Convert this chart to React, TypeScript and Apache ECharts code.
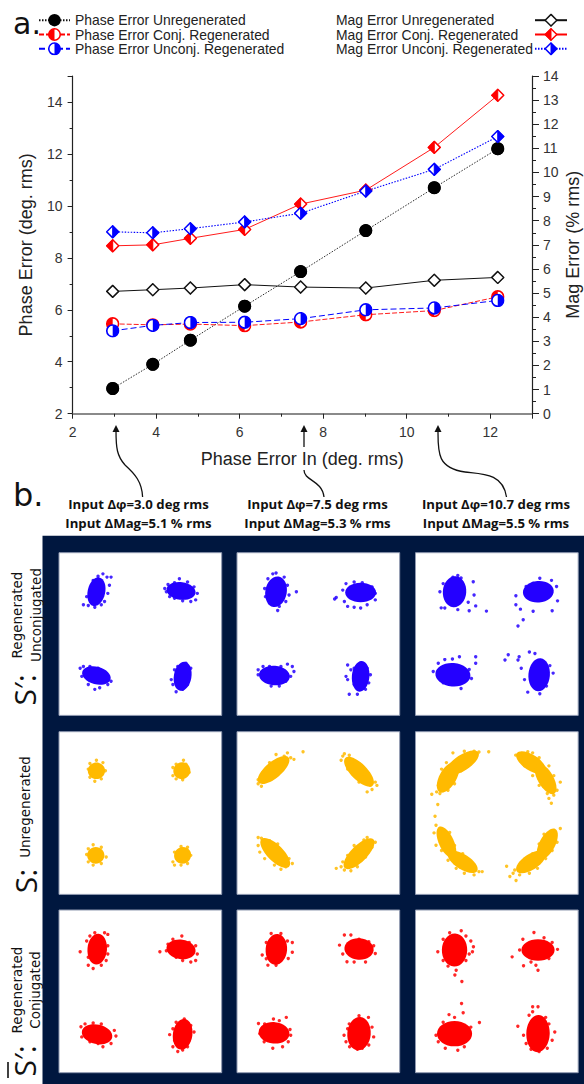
import React, { useEffect, useRef } from "react";
import * as echarts from "echarts";

const xIn = [2.96, 3.92, 4.82, 6.12, 7.46, 9.02, 10.66, 12.18];
const phaseUnreg = [2.97, 3.9, 4.83, 6.14, 7.47, 9.05, 10.7, 12.2];
const phaseConj = [5.46, 5.42, 5.45, 5.39, 5.53, 5.81, 5.97, 6.5];
const phaseUnconj = [5.19, 5.4, 5.51, 5.52, 5.66, 6.0, 6.07, 6.36];
const magUnreg = [5.07, 5.14, 5.21, 5.35, 5.25, 5.21, 5.53, 5.65];
const magConj = [6.96, 7.0, 7.27, 7.64, 8.69, 9.27, 11.04, 13.2];
const magUnconj = [7.54, 7.5, 7.67, 7.95, 8.31, 9.23, 10.13, 11.49];

const inputLabels = [
  ["Input Δφ=3.0 deg rms", "Input ΔMag=5.1 % rms"],
  ["Input Δφ=7.5 deg rms", "Input ΔMag=5.3 % rms"],
  ["Input Δφ=10.7 deg rms", "Input ΔMag=5.5 % rms"],
];

// Constellation clusters, in panel units (0-100, y downward): dense core [x, y, a, b, degrees]
const coreUnconj1 = [[23, 24, 9, 5.4, 78], [75, 23.5, 9, 5.4, -8], [23, 75.5, 9, 5.4, -15], [76, 76, 9, 5.4, 80]];
const coreUnconj2 = [[24, 24, 9.5, 6.6, 80], [76, 24.5, 9.5, 6, 0], [23, 75.5, 9.5, 6, -5], [76, 76, 9.5, 5.4, 85]];
const coreUnconj3 = [[24, 24, 9.5, 7.2, 85], [75.5, 24, 9.5, 6.6, 5], [23, 75, 10.8, 7.2, -5], [76, 75, 10.2, 6.6, 85]];
const coreUnreg1 = [[23, 24, 5.3, 5.1, 0], [75.5, 24, 5.3, 5.1, 30], [22.6, 76, 5.3, 5.1, 0], [76, 76, 5.3, 5.1, 30]];
const coreUnreg2 = [[22.5, 23.5, 12, 5, 40], [75, 24.6, 12, 5, -45], [23.5, 74.5, 12, 5, -45], [75, 75, 12.5, 5, 45]];
const coreUnreg3 = [[20, 28, 10.5, 5.2, 60], [29, 19, 11.5, 4.8, 33], [71, 19, 10.5, 4.8, -33], [80, 29, 10.5, 4.8, -60], [19, 68, 10.5, 4.6, -65], [29, 80, 10.5, 4.6, -32], [71, 80, 10.5, 4.8, 33], [81, 69, 10.5, 4.8, 62]];
const coreConj1 = [[23.5, 24, 9.5, 6, 85], [75, 24.2, 9, 6, -8], [23.4, 76.4, 9.5, 6, -12], [76, 76.4, 9.5, 6, 82]];
const coreConj2 = [[24.2, 24.2, 9.5, 6.6, 85], [75, 24, 9, 6.6, -5], [22.8, 75.5, 9.5, 6.6, -5], [75, 76, 10.2, 7.2, 85]];
const coreConj3 = [[24, 24.6, 10.2, 7.8, 88], [75.3, 24.6, 10.2, 6.6, 0], [24, 76, 10.8, 7.8, 0], [75.3, 76, 11.4, 7.2, 88]];

// Loose points read around each cluster, in the same panel units
const pointsUnconj1 = [[29.5,15],[27,13],[24,14.5],[32,15],[31,20],[30,25],[19,23],[17,27],[15,32],[18,32.5],[22,33.5],[26,32],[28,30],[21,17],[66,24],[65,22],[67,19.5],[71,18.5],[74,16],[79,18],[83,21],[85,25],[84,29],[81,30],[76,29.5],[71,28],[68,27],[13,71],[15,70],[19,70],[24,71],[29,75],[32,79],[30,81],[25,83],[22,84],[18,81],[14,76],[71,72],[73,70],[78,68],[81,71],[80,76],[79,81],[76,84],[72,85.5],[70,81],[69,78],[72,76]];
const pointsUnconj2 = [[22,13],[24,12.5],[29,15],[31,20],[32,26],[30,30],[26,33],[25,35.5],[20,31],[17.5,27],[17,22],[19,16],[36.5,24],[61,27.5],[60,28.5],[65,23],[67,19],[72,18],[77,18.5],[83,21],[85,25],[85,29],[80,32],[76,34],[72,33.5],[68,33],[66,30],[13,75],[13,72],[16,70],[20,70],[27,70],[31,68.5],[34,70],[35,73],[33,76],[30,79],[26,82],[21,82],[18,79],[68,69],[70,72],[72,71],[76,68],[80,71],[82,75],[81,80],[79,84],[74,87],[69,87],[72,81],[67,76],[68,78]];
const pointsUnconj3 = [[26,14],[23,15],[28,15.5],[35.5,17.8],[36,26],[32.4,30.4],[37,32.7],[33,35.7],[26,35],[18,34],[15.8,33.9],[15,24],[17,19],[43.6,35.9],[76.4,15.7],[83.6,17],[86.7,20.8],[87.3,29.6],[84,35.7],[72.3,36],[64.5,34.7],[61.7,32],[61.7,26.5],[66.2,41.2],[63,45],[68,20.8],[72.3,18.8],[37,64],[37,68],[27,64],[22.7,65.3],[18,65.7],[14,68],[10.9,73],[17,80],[28,83.5],[34.4,77.3],[33,71.8],[57,62.7],[55,66],[63.7,64],[63,66],[70,61],[73.4,62],[65,71],[67,78],[69,85.7],[76.4,86.7],[80.5,82],[84.6,74],[82.6,69.4]];
const pointsUnreg1 = [[18,23],[19,19.5],[23,17.5],[27,19],[28.5,24],[26,29],[22,30.5],[19,28],[70,22],[72,20],[76.5,17.5],[78,20],[80,25],[76,29.5],[72,29],[70,27],[17,75.5],[18,72],[21,69.5],[26,71],[29,77],[26,81],[21,82],[18,80],[70,80],[71,74],[75,70.5],[79,71],[81,76],[79,81],[75,82],[71,82]];
const pointsUnreg2 = [[13,32],[13,29.5],[15,33.5],[17,30],[24,14],[29,15],[31,13],[33,16],[35,17],[40.6,12.3],[27,20],[16,25],[20,19],[30,18.5],[65,15],[66,13.5],[69,14.5],[70,17],[64,17.5],[71,20],[78,26],[85,31],[86,33],[83,35.5],[80,37],[82,33],[75,31],[68,23],[13,65],[15,65.5],[13,70],[14,74],[17,78],[23,82],[27,84.5],[30,83],[34,81],[32,78],[25,69],[20,67],[61,84],[65,80],[64,83],[66,85],[70,85.5],[74,83],[79,77],[83,71],[85,68],[80,65],[78,66.5],[72,70],[68,76]];
const pointsUnreg3 = [[13,37],[15,38],[10,38.5],[14,33],[16,23],[19,19],[23,13],[30,12],[36,12],[37,14],[39,12.5],[45,12.3],[34,18],[28,24],[24,32],[20,36],[13.7,44.8],[12,52],[61.6,14.4],[65,15.5],[69,12.3],[72,13],[76,16],[82,21],[85,27],[89,31],[87,36],[85,39],[81,38],[76,33],[72,27],[67,21],[83.5,44],[82,41],[12.6,57.5],[11.4,62.2],[15,59.5],[17,61],[12.6,69.8],[16,73],[20,79],[25,84],[30,87],[36,88],[39,86],[41,86],[35,82],[29,75],[24,70],[21,62],[89,59.5],[84,62],[86,64],[87,68],[84,73],[80,78],[75,84],[70,87],[64,88],[60,87],[56,82.7],[58,89],[61.8,91.4],[61,85],[66,80],[72,75],[76,69],[79,63]];
const pointsConj1 = [[13,25.7],[18,34],[21,36],[18,29],[17,19],[19,16],[22,14],[28,14],[30,15],[30,22],[30,27],[29,31],[26,34],[62,25.7],[66,25],[67,21],[70,18],[75.5,16],[80,20],[84,22],[85,27],[84,31],[81,32],[76,31],[72,29],[13.5,71.8],[14,78],[16,70],[21,69.5],[26,70],[29,74],[34,74],[35,77.5],[32,82],[27,84],[24,82],[19,81],[68,76.6],[70,73],[72,69],[77,67],[81,71],[83,75],[80,80],[79,84],[76,86],[73,87],[70,84],[71,80]];
const pointsConj2 = [[21,14.4],[27,14.4],[31,19],[34,20],[34,26],[31.5,29.8],[27,31],[24,34],[19,33.9],[18,30],[15.5,27.7],[18,20],[66,15.4],[70,15.4],[63,21.6],[65,27],[67.6,31.8],[72,32],[79,32],[85,26.7],[84,22],[81,19.5],[75,18],[13.2,69.8],[14,76],[16.7,81],[22,85],[28,84],[31.5,81],[33,77],[32.6,73.5],[30.3,66],[22.4,67],[26,68],[17,70],[75,65],[80.8,66],[83,72],[84,78],[81,83],[77,85],[74,85.6],[69.2,84],[67,81],[65.8,77],[69,70],[68,73]];
const pointsConj3 = [[28.1,12.7],[21,14],[17,18],[13.7,25.7],[17,31],[20,34.5],[24.2,40],[25,37],[28.5,44],[31,31],[33,27],[35.6,22.6],[35,25.7],[31,16],[34,19],[72.8,13.8],[66,18],[59.4,28.8],[64,24.6],[66.4,34.3],[71,32],[75.3,37],[74,34],[82,29.8],[87.3,24.2],[84,20],[79,17],[28.3,57.5],[29.3,63.2],[20.6,64.3],[24,66],[39.3,69.2],[17,69],[12.6,77],[14,81],[18.3,85],[26,86.2],[30,84],[33,77],[34,72],[72,59.5],[75.3,59.5],[69.8,64.7],[72,62.5],[62.9,71.5],[66.4,77],[68,82],[71,85.6],[76,87],[81,85],[84,80],[85.6,75],[82,70],[80,66]];

const BLUE = "#2400ff";
const AMBER = "#ffba00";
const RED = "#ff0000";
const SANS = "'Liberation Sans', Arial, sans-serif";

const panelRows = [
  { top: 552.7, color: BLUE, cores: [coreUnconj1, coreUnconj2, coreUnconj3], points: [pointsUnconj1, pointsUnconj2, pointsUnconj3] },
  { top: 731.7, color: AMBER, cores: [coreUnreg1, coreUnreg2, coreUnreg3], points: [pointsUnreg1, pointsUnreg2, pointsUnreg3] },
  { top: 910, color: RED, cores: [coreConj1, coreConj2, coreConj3], points: [pointsConj1, pointsConj2, pointsConj3] },
];
const panelLefts = [59, 237, 415.5];
const PANEL = 162.7;

const uri = (inner: string) =>
  "image://data:image/svg+xml;charset=utf-8," +
  encodeURIComponent(`<svg xmlns="http://www.w3.org/2000/svg" width="14" height="14" viewBox="0 0 14 14">${inner}</svg>`);
const halfCircle = (c: string, left: boolean) =>
  uri(`<circle cx="7" cy="7" r="5.9" fill="#fff" stroke="${c}" stroke-width="1.6"/><path d="M7 1.1 A5.9 5.9 0 0 ${left ? 0 : 1} 7 12.9 Z" fill="${c}"/>`);
const halfDiamond = (c: string, left: boolean) =>
  uri(`<path d="M7 1 L13 7 L7 13 L1 7 Z" fill="#fff" stroke="${c}" stroke-width="1.5"/><path d="M7 1 L${left ? 1 : 13} 7 L7 13 Z" fill="${c}" stroke="${c}" stroke-width="1"/>`);
const blackCircle = uri(`<circle cx="7" cy="7" r="6.4" fill="#000"/>`);
const blackDiamond = uri(`<path d="M7 1 L13 7 L7 13 L1 7 Z" fill="#fff" stroke="#111" stroke-width="1.5"/>`);

const zip = (ys: number[]) => xIn.map((x, i) => [x, ys[i]]);

const lineSeries = (name: string, ys: number[], yAxisIndex: number, symbol: string, color: string, width: number, type: any) => ({
  type: "line", name, data: zip(ys), xAxisIndex: 0, yAxisIndex, symbol, symbolSize: 14,
  showSymbol: true, itemStyle: { color, opacity: 1 }, lineStyle: { color, width, type }, smooth: false,
});

const renderCore = (params: any, api: any) => {
  const c = api.coord([api.value(0), api.value(1)]);
  const s = api.size([1, 1]);
  const unit = (s[0] + s[1]) / 2;
  return {
    type: "ellipse", x: c[0], y: c[1], rotation: (api.value(4) * Math.PI) / 180,
    shape: { cx: 0, cy: 0, rx: api.value(2) * unit, ry: api.value(3) * unit },
    style: { fill: api.visual("color") },
  };
};

const rotated = (text: string, x: number, y: number, size: number, font = "'DejaVu Sans'") => ({
  type: "text", x, y, rotation: Math.PI / 2, z: 5,
  style: { text, font: `${size}px ${font}`, fill: "#111", textAlign: "center", textVerticalAlign: "middle" },
});
const curve = (x1: number, y1: number, cpx1: number, cpy1: number, cpx2: number, cpy2: number, x2: number, y2: number) => ({
  type: "bezierCurve", z: 5,
  shape: { x1, y1, cpx1, cpy1, cpx2, cpy2, x2, y2 },
  style: { stroke: "#111", lineWidth: 1.3, fill: "none" },
});
const head = (x: number) => ({
  type: "polygon", z: 5, shape: { points: [[x, 425], [x - 3.5, 432], [x + 3.5, 432]] }, style: { fill: "#111" },
});

export default function App() {
  const ref = useRef<HTMLDivElement>(null);
  useEffect(() => {
    document.body.style.margin = "0";
    const chart = echarts.init(ref.current!, undefined, { renderer: "svg" });

    const grids: any[] = [{ left: 72.6, top: 76, width: 459.4, height: 337.7, outerBoundsMode: "none" }];
    const xAxes: any[] = [{
      type: "value", gridIndex: 0, min: 2, max: 13, interval: 2,
      name: "Phase Error In (deg. rms)", nameLocation: "middle", nameGap: 36,
      nameTextStyle: { fontFamily: SANS, fontSize: 18, color: "#222" },
      splitLine: { show: false },
      axisLine: { lineStyle: { color: "#8a8a8a", width: 2 }, onZero: false },
      axisTick: { length: 5, lineStyle: { color: "#222" } },
      minorTick: { show: true, splitNumber: 2, length: 3, lineStyle: { color: "#222" } },
      axisLabel: { fontFamily: SANS, fontSize: 14, color: "#333", margin: 11, showMaxLabel: false },
    }];
    const yAxes: any[] = [
      {
        type: "value", gridIndex: 0, position: "left", min: 2, max: 15, interval: 2,
        name: "Phase Error (deg. rms)", nameLocation: "middle", nameGap: 38,
        nameTextStyle: { fontFamily: SANS, fontSize: 18, color: "#222" },
        splitLine: { show: false },
        axisLine: { show: true, lineStyle: { color: "#222", width: 1.2 } },
        axisTick: { show: true, length: 5, lineStyle: { color: "#222" } },
        minorTick: { show: true, splitNumber: 2, length: 3, lineStyle: { color: "#222" } },
        axisLabel: { fontFamily: SANS, fontSize: 14, color: "#333", margin: 10, showMaxLabel: false },
      },
      {
        type: "value", gridIndex: 0, position: "right", min: 0, max: 14, interval: 1,
        name: "Mag Error (% rms)", nameLocation: "middle", nameGap: 32, nameMoveOverlap: false,
        nameTextStyle: { fontFamily: SANS, fontSize: 18, color: "#222" },
        splitLine: { show: false },
        axisLine: { show: true, lineStyle: { color: "#222", width: 1.2 } },
        axisTick: { show: true, length: 7, lineStyle: { color: "#222" } },
        minorTick: { show: true, splitNumber: 2, length: 4, lineStyle: { color: "#222" } },
        axisLabel: { fontFamily: SANS, fontSize: 14, color: "#333", margin: 11 },
      },
    ];

    const series: any[] = [
      lineSeries("Phase Error Unregenerated", phaseUnreg, 0, blackCircle, "#111", 0.9, [1.5, 1.5]),
      {
        type: "scatter", name: "Phase Error Unregenerated gap", xAxisIndex: 0, yAxisIndex: 0, data: zip(phaseUnreg),
        symbol: "circle", symbolSize: 20, itemStyle: { color: "#fff", opacity: 1 }, silent: true,
      },
      {
        type: "scatter", name: "Phase Error Unregenerated points", xAxisIndex: 0, yAxisIndex: 0, data: zip(phaseUnreg),
        symbol: "circle", symbolSize: 13, itemStyle: { color: "#000", opacity: 1 }, silent: true,
      },
      lineSeries("Phase Error Conj. Regenerated", phaseConj, 0, halfCircle(RED, true), RED, 0.9, [5, 2]),
      lineSeries("Phase Error Unconj. Regenerated", phaseUnconj, 0, halfCircle("#0000ff", false), "#0000ff", 1, [6, 3]),
      lineSeries("Mag Error Unregenerated", magUnreg, 1, blackDiamond, "#111", 1, "solid"),
      lineSeries("Mag Error Conj. Regenerated", magConj, 1, halfDiamond(RED, true), RED, 0.9, "solid"),
      lineSeries("Mag Error Unconj. Regenerated", magUnconj, 1, halfDiamond("#0000ff", false), "#0000ff", 1.1, [1.5, 1.5]),
    ];

    panelRows.forEach((row) => {
      panelLefts.forEach((left, col) => {
        const gi = grids.length;
        grids.push({
          left, top: row.top, width: PANEL, height: PANEL, show: true, outerBoundsMode: "none",
          backgroundColor: "#fff", borderColor: "#8f99b0", borderWidth: 1,
        });
        xAxes.push({ type: "value", gridIndex: gi, min: 0, max: 100, show: false });
        yAxes.push({ type: "value", gridIndex: gi, min: 0, max: 100, inverse: true, show: false });
        const axisIdx = { xAxisIndex: gi, yAxisIndex: gi + 1 };
        series.push({
          type: "custom", ...axisIdx, data: row.cores[col], renderItem: renderCore,
          encode: { x: 0, y: 1 }, itemStyle: { color: row.color }, silent: true,
        });
        series.push({
          type: "scatter", ...axisIdx, data: row.points[col], symbol: "circle", symbolSize: 3.4,
          itemStyle: { color: row.color, opacity: 0.85 }, silent: true,
        });
      });
    });

    const legendBase = {
      orient: "vertical", top: 13.2, padding: 0, itemHeight: 17, itemGap: 0.3,
      textStyle: { fontFamily: SANS, fontSize: 13.9, color: "#222" }, inactiveColor: "#222", selectedMode: false,
    };

    chart.setOption({
      animation: false,
      backgroundColor: "#fff",
      grid: grids,
      xAxis: xAxes,
      yAxis: yAxes,
      series,
      legend: [
        {
          ...legendBase, left: 38, itemWidth: 31,
          data: ["Phase Error Unregenerated", "Phase Error Conj. Regenerated", "Phase Error Unconj. Regenerated"],
        },
        {
          ...legendBase, right: 16, itemWidth: 32, align: "right",
          data: ["Mag Error Unregenerated", "Mag Error Conj. Regenerated", "Mag Error Unconj. Regenerated"],
          formatter: (name: string) => `{a|${name}}`,
          textStyle: { ...legendBase.textStyle, rich: { a: { width: 194, align: "left", fontFamily: SANS, fontSize: 13.9, color: "#222" } } },
        },
      ],
      graphic: {
        elements: [
          { type: "rect", z: -10, shape: { x: 42.5, y: 535.7, width: 541.5, height: 548.3 }, style: { fill: "#00173f" } },
          { type: "text", x: 13, y: 8, z: 5, style: { text: "a.", font: "30px 'DejaVu Sans'", fill: "#111" } },
          { type: "text", x: 13, y: 479, z: 5, style: { text: "b.", font: "32px 'DejaVu Sans'", fill: "#111" } },
          ...inputLabels.flatMap((pair, i) =>
            pair.map((text, j) => ({
              type: "text", x: [138.5, 317.5, 496][i], y: 503.5 + j * 19.5, z: 5,
              style: { text, font: "bold 13.2px 'Open Sans'", fill: "#111", textAlign: "center", textVerticalAlign: "middle" },
            }))
          ),
          rotated("Regenerated", 17, 615, 13.5),
          rotated("Unconjugated", 36, 615, 13.5),
          rotated("S′:", 24, 690, 30, "'Open Sans'"),
          rotated("Unregenerated", 25, 807, 13.5),
          rotated("S:", 25, 881, 30, "'Open Sans'"),
          rotated("Regenerated", 17, 990, 13.5),
          rotated("Conjugated", 35, 990, 13.5),
          rotated("S′:", 24, 1061, 30, "'Open Sans'"),
          { type: "line", z: 5, shape: { x1: 8, y1: 1062, x2: 8, y2: 1078 }, style: { stroke: "#111", lineWidth: 1.6 } },
          head(116),
          curve(116, 431, 116, 448, 117, 456, 125, 465),
          curve(125, 465, 135, 474, 142, 482, 142.6, 497),
          head(304),
          { type: "line", z: 5, shape: { x1: 304, y1: 431, x2: 304, y2: 447 }, style: { stroke: "#111", lineWidth: 1.3 } },
          curve(304, 470, 304, 481, 322, 480, 324, 497),
          head(438),
          curve(438, 431, 438, 452, 437, 468, 465, 472),
          curve(465, 472, 482, 474, 503, 473, 506.5, 497),
        ],
      },
    });
    return () => chart.dispose();
  }, []);
  return <div ref={ref} style={{ width: 584, height: 1084 }} />;
}
